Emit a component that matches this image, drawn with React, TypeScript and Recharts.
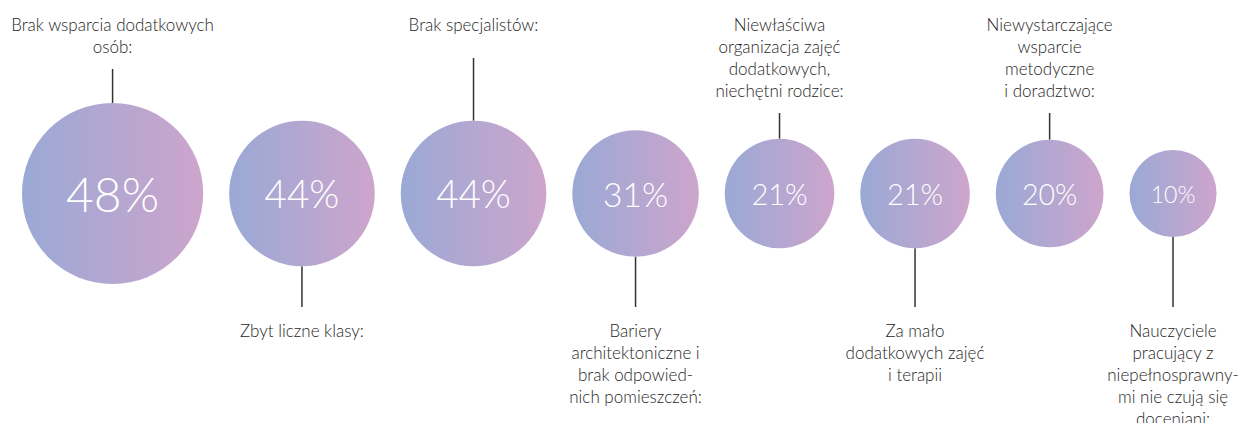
import React from 'react'
import { ScatterChart, Scatter, XAxis, YAxis, ZAxis } from 'recharts'

// survey answers, in the order they are shown
const values = [48, 44, 44, 31, 21, 21, 20, 10]

const labelLines = [
   ['Brak wsparcia dodatkowych', 'osób:'],
   ['Zbyt liczne klasy:'],
   ['Brak specjalistów:'],
   ['Bariery', 'architektoniczne i', 'brak odpowied-', 'nich pomieszczeń:'],
   ['Niewłaściwa', 'organizacja zajęć', 'dodatkowych,', 'niechętni rodzice:'],
   ['Za mało', 'dodatkowych zajęć', 'i terapii'],
   ['Niewystarczające', 'wsparcie', 'metodyczne', 'i doradztwo:'],
   ['Nauczyciele', 'pracujący z', 'niepełnosprawny-', 'mi nie czują się', 'doceniani:'],
]

const W = 1251
const H = 423
const CENTER_Y = 193.5
const LEFT = 22
const GAP = 26

// bubble area grows linearly with the value; the top answer is drawn a bit larger
const R2_BASE = 898
const R2_PER_PT = 100
const HIGHLIGHT = 1.2
const maxValue = Math.max(...values)

const baseRadius = (v: number) => Math.sqrt(R2_BASE + R2_PER_PT * v)
const drawRadius = (v: number) => baseRadius(v) * (v === maxValue ? HIGHLIGHT : 1)

const FONT = 'Lato, "Open Sans", sans-serif'
const TEXT_COLOR = '#262626'
const LINE_H = 22
const TOP_TEXT_Y = 25
const BOTTOM_LINE_END = 307
const BOTTOM_TEXT_Y = 331

// pack bubbles from the left with an even gap
const centers: number[] = []
let edge = LEFT
values.forEach((v) => {
   const r = drawRadius(v)
   centers.push(edge + r)
   edge += 2 * r + GAP
})

const data = values.map((v, i) => ({
   value: v,
   x: centers[i],
   y: 0,
   lines: labelLines[i],
   above: i % 2 === 0,
}))

const Bubble = (props: any) => {
   const { cx, cy, payload } = props
   const base = props.size ? Math.sqrt(props.size / Math.PI) : props.width / 2
   const r = base * (payload.value === maxValue ? HIGHLIGHT : 1)
   const fontSize = 0.53 * r
   const lines: string[] = payload.lines
   const above: boolean = payload.above

   let lineY1 = cy - r
   let lineY2 = Math.max(TOP_TEXT_Y + (lines.length - 1) * LINE_H + 22, 58)
   let firstY = TOP_TEXT_Y
   if (!above) {
      lineY1 = cy + r
      lineY2 = BOTTOM_LINE_END
      firstY = BOTTOM_TEXT_Y
   }

   return (
      <g>
         <line x1={cx} y1={lineY1} x2={cx} y2={lineY2} stroke="#333" strokeWidth={1.5} />
         <circle cx={cx} cy={cy} r={r} fill="url(#bubbleFill)" />
         <text
            x={cx}
            y={cy + 0.19 * r + 1}
            textAnchor="middle"
            fill="#fff"
            fontFamily={FONT}
            fontWeight={300}
            fontSize={fontSize}
         >
            {payload.value}%
         </text>
         {lines.map((t, k) => (
            <text
               key={k}
               x={cx}
               y={firstY + k * LINE_H}
               dy="0.35em"
               textAnchor="middle"
               fill={TEXT_COLOR}
               fontFamily={FONT}
               fontWeight={300}
               fontSize={17}
            >
               {t}
            </text>
         ))}
      </g>
   )
}

const App: React.FC = () => {
   return (
      <div style={{ position: 'absolute', left: 0, top: 0, width: W, height: H, background: '#fff' }}>
         <ScatterChart width={W} height={H} margin={{ top: 0, right: 0, left: 0, bottom: H - 2 * CENTER_Y }}>
            <defs>
               <linearGradient id="bubbleFill" x1="0" y1="0" x2="1" y2="0">
                  <stop offset="0%" stopColor="#9aa9d5" />
                  <stop offset="100%" stopColor="#cda5cc" />
               </linearGradient>
            </defs>
            <XAxis type="number" dataKey="x" domain={[0, W]} hide />
            <YAxis type="number" dataKey="y" domain={[-1, 1]} hide />
            <ZAxis
               type="number"
               dataKey="value"
               domain={[0, maxValue]}
               range={[Math.PI * R2_BASE, Math.PI * baseRadius(maxValue) ** 2]}
            />
            <Scatter data={data} shape={(p: any) => <Bubble {...p} />} isAnimationActive={false} />
         </ScatterChart>
      </div>
   )
}

export default App
